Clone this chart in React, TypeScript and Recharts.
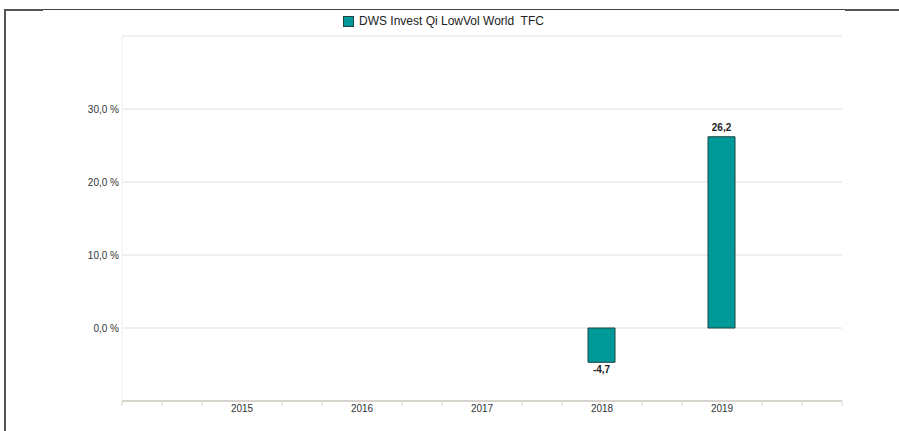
import React from 'react';
import { BarChart, Bar, XAxis, YAxis, CartesianGrid, LabelList } from 'recharts';

const seriesName = 'DWS Invest Qi LowVol World  TFC';
const years = [2015, 2016, 2017, 2018, 2019];
const returns: (number | null)[] = [null, null, null, -4.7, 26.2];
const yTicks = [-10, 0, 10, 20, 30, 40];
const yLabelled = [0, 10, 20, 30];

const data = years.map((year, i) => ({ year, value: returns[i] }));

const TEAL = '#00999a';
const BAR_EDGE = '#1f4444';
const AXIS = '#d9d4cb';
const GRID = '#e3e0da';
const FONT = '"Liberation Sans", Arial, sans-serif';

// minor marks every third of a year, across the padded domain
const xDomain: [number, number] = [years[0] - 1, years[years.length - 1] + 1];
const xTicks: number[] = [];
for (let i = 0; i <= (xDomain[1] - xDomain[0]) * 3; i++) xTicks.push(xDomain[0] + i / 3);

const fmt = (v: number) => v.toFixed(1).replace('.', ',');

const XTick = (props: any) => {
  const { x, y, payload } = props;
  const v = payload.value as number;
  const isYear = Math.abs(v - Math.round(v)) < 0.01 && years.includes(Math.round(v));
  if (isYear) {
    return (
      <text x={x} y={y + 11} textAnchor="middle" fontSize={10} fill="#333" fontFamily={FONT}>
        {Math.round(v)}
      </text>
    );
  }
  return <line x1={x} x2={x} y1={y} y2={y + 5} stroke={AXIS} strokeWidth={1} />;
};

const YTick = (props: any) => {
  const { x, y, payload } = props;
  if (!yLabelled.includes(payload.value)) return null;
  return (
    <text x={x} y={y + 3.5} textAnchor="end" fontSize={10} fill="#333" fontFamily={FONT}>
      {fmt(payload.value) + ' %'}
    </text>
  );
};

const BarValue = (props: any) => {
  const { x, y, width, height, value } = props;
  if (value == null) return null;
  const top = Math.min(y, y + height);
  const bottom = Math.max(y, y + height);
  const ty = value >= 0 ? top - 6 : bottom + 11;
  return (
    <text x={x + width / 2} y={ty} textAnchor="middle" fontSize={10} fontWeight="bold" fill="#222" fontFamily={FONT}>
      {fmt(value)}
    </text>
  );
};

export default function App() {
  return (
    <div style={{ position: 'absolute', left: 0, top: 0, width: 899, height: 431, background: '#fff', overflow: 'hidden' }}>
      {/* frame */}
      <div style={{ position: 'absolute', left: 4, top: 9, width: 895, height: 430, borderTop: '1px solid #444', borderLeft: '2px solid #555' }} />
      <div style={{ position: 'absolute', left: 4, top: 9, width: 39, height: 2, background: '#555' }} />
      <div style={{ position: 'absolute', left: 845, top: 9, width: 54, height: 2, background: '#555' }} />

      {/* legend */}
      <div style={{ position: 'absolute', left: 343, top: 14, display: 'flex', alignItems: 'center', fontFamily: FONT, fontSize: 12, color: '#222', whiteSpace: 'pre' }}>
        <span style={{ display: 'inline-block', width: 9, height: 9, background: TEAL, border: `1px solid ${BAR_EDGE}`, marginRight: 5 }} />
        {seriesName}
      </div>

      <div style={{ position: 'absolute', left: 0, top: 0 }}>
        <BarChart width={899} height={431} data={data} margin={{ top: 36, right: 57, bottom: 0, left: 0 }}>
          <CartesianGrid vertical={false} stroke={GRID} />
          <XAxis
            dataKey="year"
            type="number"
            domain={xDomain}
            ticks={xTicks}
            interval={0}
            height={30}
            tickSize={0}
            tickMargin={0}
            tickLine={false}
            axisLine={{ stroke: AXIS, strokeWidth: 2 }}
            tick={<XTick />}
            allowDecimals
          />
          <YAxis
            type="number"
            domain={[-10, 40]}
            ticks={yTicks}
            interval={0}
            width={122}
            tickSize={0}
            tickMargin={3}
            tickLine={false}
            axisLine={{ stroke: '#f3f1ee' }}
            tick={<YTick />}
          />
          <Bar dataKey="value" name={seriesName} fill={TEAL} stroke={BAR_EDGE} strokeWidth={1} barSize={27} isAnimationActive={false}>
            <LabelList dataKey="value" content={<BarValue />} />
          </Bar>
        </BarChart>
      </div>
    </div>
  );
}
